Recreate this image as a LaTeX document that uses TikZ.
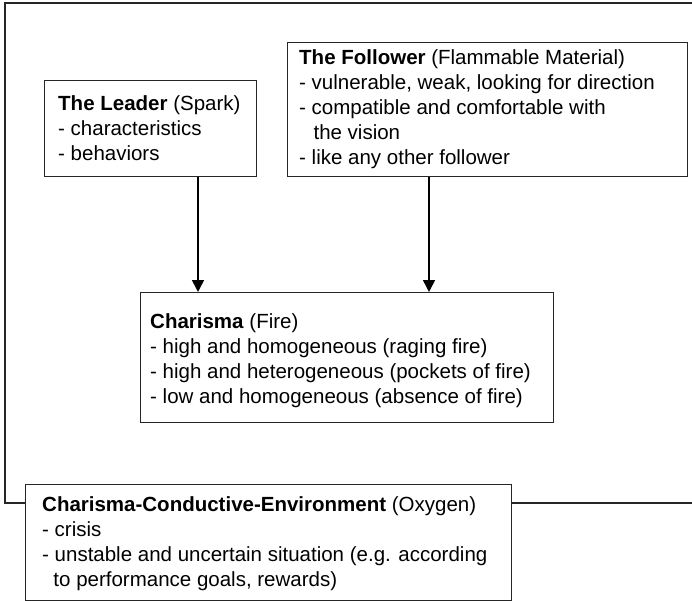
\documentclass[tikz,border=0pt]{standalone}
\usepackage{fontspec}
\setmainfont{Liberation Sans}
\usetikzlibrary{arrows.meta}
\begin{document}
\begin{tikzpicture}[x=1pt,y=-1pt,
  frame/.style={draw=black!85, line width=1.1pt},
  box/.style={draw=black!85, line width=1.1pt, fill=white, anchor=north west, inner sep=0pt},
  txt/.style={anchor=west, align=left, inner sep=0pt, font=\fontsize{20.5}{25}\selectfont},
  flow/.style={draw=black, line width=1.6pt, -{Triangle[length=12pt,width=12pt]}}]
\useasboundingbox (0,0) rectangle (692,601);

% boxes
\node[box, minimum width=212, minimum height=96]  (leader)   at (44,80)   {};
\node[box, minimum width=400, minimum height=134] (follower) at (287,42)  {};
\node[box, minimum width=413, minimum height=130] (charisma) at (140,292) {};
\node[box, minimum width=486, minimum height=116] (env)      at (25,484)  {};

% outer frame, passing behind the environment box
\coordinate (topR) at (692,3);
\coordinate (topL) at (5,3);
\coordinate (botL) at (5,503);
\coordinate (botR) at (692,503);
\draw[frame] (topR) -- (topL) -- (botL) -- (env.west |- botL);
\draw[frame] (env.east |- botR) -- (botR);

% texts
\node[txt] (leadertxt) at ([xshift=14pt]leader.west)
  {\textbf{The Leader} (Spark)\\- characteristics\\- behaviors};
\node[txt] (followertxt) at ([xshift=12pt]follower.west)
  {\textbf{The Follower} (Flammable Material)\\- vulnerable, weak, looking for direction\\- compatible and comfortable with\\\hspace*{0.7em}the vision\\- like any other follower};
\node[txt] (charismatxt) at ([xshift=10pt,yshift=-3pt]charisma.west)
  {\textbf{Charisma} (Fire)\\- high and homogeneous (raging fire)\\- high and heterogeneous (pockets of fire)\\- low and homogeneous (absence of fire)};
\node[txt] (envtxt) at ([xshift=17pt,yshift=-1pt]env.west)
  {\textbf{Charisma-Conductive-Environment} (Oxygen)\\- crisis\\- unstable and uncertain situation (e.g. according\\\hspace*{0.55em}to performance goals, rewards)};

% arrows into the charisma box
\coordinate (la) at ([xshift=154pt]leader.south west);
\coordinate (fa) at ([xshift=142pt]follower.south west);
\draw[flow] (la) -- (la |- charisma.north);
\draw[flow] (fa) -- (fa |- charisma.north);
\end{tikzpicture}
\end{document}
